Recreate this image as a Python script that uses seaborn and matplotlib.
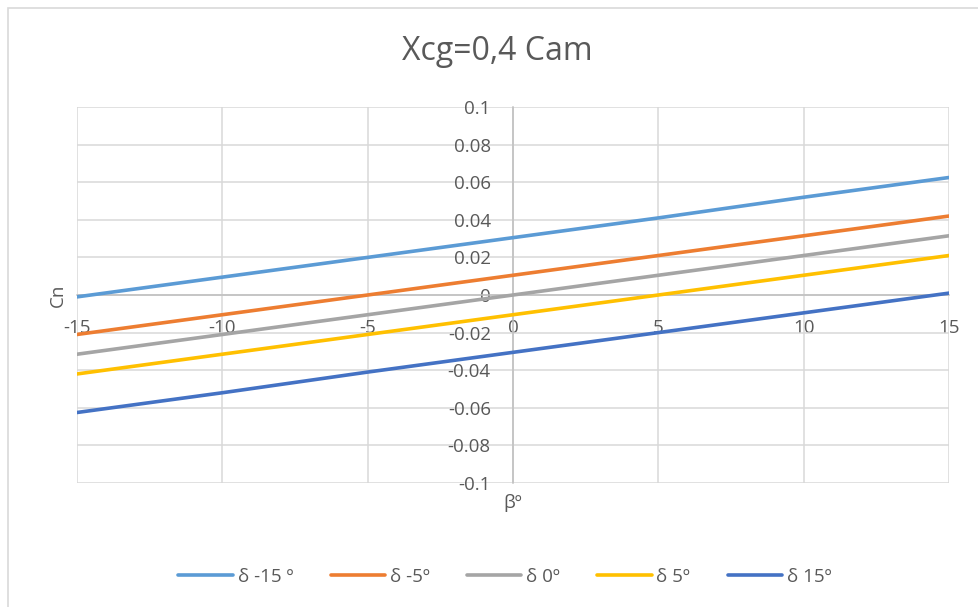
import matplotlib
matplotlib.use("Agg")
import matplotlib.pyplot as plt
import matplotlib.patches as mpatches
import pandas as pd
import seaborn as sns

sns.set_style("white")
plt.rcParams["font.family"] = ["Open Sans", "DejaVu Sans"]
plt.rcParams["axes.unicode_minus"] = False

# ─── データ ───────────────────────────────────────────
beta = [-15, -10, -5, 0, 5, 10, 15]
cn_m15 = [-0.001, 0.0095, 0.020, 0.0305, 0.041, 0.052, 0.0625]
cn_m5 = [-0.021, -0.0105, 0.0, 0.0105, 0.021, 0.0315, 0.042]
cn_0 = [-0.0315, -0.021, -0.0105, 0.0, 0.0105, 0.021, 0.0315]
cn_5 = [-0.042, -0.0315, -0.021, -0.0105, 0.0, 0.0105, 0.021]
cn_15 = [-0.0625, -0.052, -0.041, -0.0305, -0.020, -0.0095, 0.001]

series = ["δ -15 º", "δ -5º", "δ 0º", "δ 5º", "δ 15º"]
values = [cn_m15, cn_m5, cn_0, cn_5, cn_15]
colors = ["#5B9BD5", "#ED7D31", "#A5A5A5", "#FFC000", "#4472C4"]

df = pd.DataFrame(
    [
        {"beta": b, "cn": v, "serie": s}
        for s, vals in zip(series, values)
        for b, v in zip(beta, vals)
    ]
)

TXT = "#595959"
GRID = "#D9D9D9"
FS = 13.5

fig = plt.figure(figsize=(9.79, 6.07), dpi=100, facecolor="white")
ax = fig.add_axes([77 / 979, 1 - 483 / 607, 872 / 979, 376 / 607])

sns.lineplot(
    data=df,
    x="beta",
    y="cn",
    hue="serie",
    hue_order=series,
    palette=dict(zip(series, colors)),
    linewidth=2.6,
    ax=ax,
    zorder=3,
)

ax.set_xlim(-15, 15)
ax.set_ylim(-0.1, 0.1)
ax.set_xticks(range(-15, 16, 5))
ax.set_yticks([i / 100 for i in range(-10, 11, 2)])
ax.set_yticklabels(["-0.1", "-0.08", "-0.06", "-0.04", "-0.02", "0",
                    "0.02", "0.04", "0.06", "0.08", "0.1"])
ax.grid(True, color=GRID, lw=1.1)
ax.set_axisbelow(True)

for side in ["top", "right"]:
    ax.spines[side].set_visible(False)
ax.spines["left"].set_position(("data", 0))
ax.spines["bottom"].set_position(("data", 0))
ax.spines["left"].set_color("#BFBFBF")
ax.spines["bottom"].set_color("#BFBFBF")
ax.spines["left"].set_linewidth(1.1)
ax.spines["bottom"].set_linewidth(1.1)
ax.tick_params(axis="both", length=0, labelsize=FS, labelcolor=TXT)
ax.tick_params(axis="y", pad=16)
ax.tick_params(axis="x", pad=17)

ax.set_xlabel("")
ax.set_ylabel("")
fig.text(58 / 979, 1 - 295 / 607, "Cn", rotation=90, ha="center", va="center",
         fontsize=FS, color=TXT)
fig.text(513 / 979, 1 - 503 / 607, "βº", ha="center", va="center",
         fontsize=FS, color=TXT)

fig.text(497 / 979, 1 - 52 / 607, "Xcg=0,4 Cam", ha="center", va="center",
         fontsize=23, color=TXT)

ax.legend(
    loc="center",
    bbox_to_anchor=(505 / 979, 1 - 577 / 607),
    bbox_transform=fig.transFigure,
    ncol=5,
    frameon=False,
    fontsize=FS,
    labelcolor=TXT,
    handlelength=2.9,
    handletextpad=0.25,
    columnspacing=2.0,
)

# 外枠
fig.patches.append(
    mpatches.Rectangle((8 / 979, -0.05), 1.2, 1 - 8 / 607 + 0.05,
                       transform=fig.transFigure, fill=False,
                       edgecolor=GRID, lw=1.2)
)

fig.savefig("out.png", dpi=100, facecolor="white")
